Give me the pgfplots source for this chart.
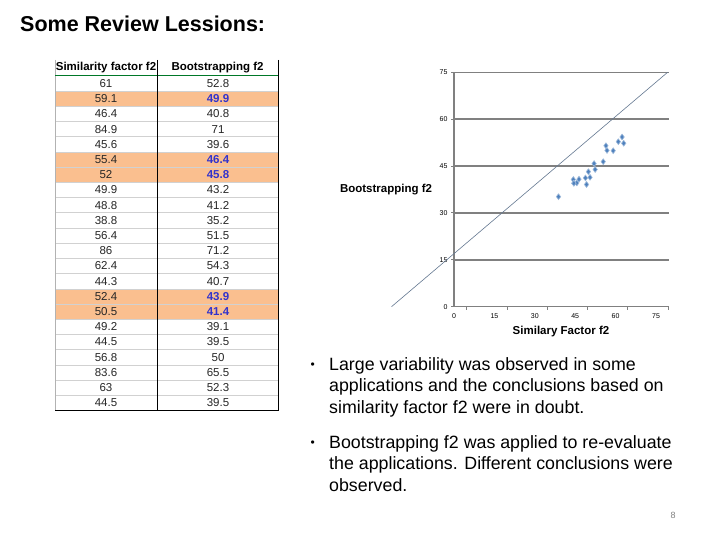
\documentclass[border=0pt]{standalone}
\usepackage{pgfplots}
\pgfplotsset{compat=1.18}
\usepackage{fontspec}
\setmainfont{Liberation Sans}
\definecolor{rowhl}{RGB}{250,191,143}
\definecolor{ptblue}{RGB}{79,129,189}
\definecolor{gridgray}{RGB}{128,128,128}
\definecolor{hlblue}{RGB}{51,51,204}
\definecolor{hdrgreen}{RGB}{0,120,40}
\definecolor{diag}{RGB}{100,120,145}

\begin{document}
\begin{tikzpicture}
\begin{scope}[x=1pt,y=-1pt]
\path[fill=white] (0,0) rectangle (720,540);
\node[anchor=base west, inner sep=0, font=\bfseries\fontsize{21.5}{24}\selectfont] at (20,31.5) {Some Review Lessions:};

% table
\foreach \r in {2,6,7,15,16}
  \fill[rowhl] (55,{76+(\r-1)*15.2}) rectangle (278,{76+\r*15.2});
\foreach \r in {1,...,21}
  \draw[black!18, line width=0.6pt] (55,{76+\r*15.2}) -- (278,{76+\r*15.2});
\draw[gray!60, line width=0.6pt] (55,60) -- (55,410.4);
\draw[hdrgreen, line width=1.6pt] (55,75.5) -- (278,75.5);
\draw[black, line width=1pt] (157,60) -- (157,410.4);
\draw[black, line width=1pt] (278,60) -- (278,410.4) -- (55,410.4);
\node[font=\bfseries\fontsize{11.5}{13}\selectfont, inner sep=0] at (106,67.5) {Similarity factor f2};
\node[font=\bfseries\fontsize{11.5}{13}\selectfont, inner sep=0] at (217.5,67.5) {Bootstrapping f2};
\foreach \a/\b/\h [count=\i] in {61/52.8/0, 59.1/49.9/1, 46.4/40.8/0, 84.9/71/0, 45.6/39.6/0,
  55.4/46.4/1, 52/45.8/1, 49.9/43.2/0, 48.8/41.2/0, 38.8/35.2/0, 56.4/51.5/0, 86/71.2/0,
  62.4/54.3/0, 44.3/40.7/0, 52.4/43.9/1, 50.5/41.4/1, 49.2/39.1/0, 44.5/39.5/0, 56.8/50/0,
  83.6/65.5/0, 63/52.3/0, 44.5/39.5/0} {
  \node[font=\fontsize{11.5}{13}\selectfont, text=black!85, inner sep=0] at (106,{76+(\i-0.5)*15.2}) {\a};
  \node[font=\fontsize{11.5}{13}\selectfont, text=black!85, inner sep=0] at (218,{76+(\i-0.5)*15.2})
    {\ifnum\h=1 \color{hlblue}\bfseries\fi\b};
}

% bullets
\begin{scope}[every node/.style={anchor=base west, inner sep=0, font=\fontsize{17.8}{21.5}\selectfont}]
\node[font=\fontsize{12}{14}\selectfont] at (310.5,368) {•};
\node at (329,370) {Large variability was observed in some};
\node at (329,391.5) {applications and the conclusions based on};
\node at (329,413) {similarity factor f2 were in doubt.};
\node[font=\fontsize{12}{14}\selectfont] at (310.5,446) {•};
\node at (329,448) {Bootstrapping f2 was applied to re-evaluate};
\node at (329,469.5) {the applications. Different conclusions were};
\node at (329,491) {observed.};
\end{scope}
\node[font=\fontsize{9}{10}\selectfont, text=gray, inner sep=0] at (673,515) {8};
\end{scope}

\begin{axis}[
  at={(454pt,-306.7pt)}, anchor=south west,
  scale only axis, width=215.5pt, height=234.4pt,
  xmin=0, xmax=80, ymin=0, ymax=75,
  clip=false,
  axis x line*=bottom, axis y line*=left,
  axis line style={gridgray, line width=1.5pt},
  /pgf/number format/assume math mode=true,
  ticklabel style={font=\fontsize{7}{8}\selectfont},
  ytick={0,15,30,45,60,75},
  ymajorgrids, grid style={gridgray, line width=1.5pt},
  y tick style={gridgray, line width=1pt},
  tick align=outside, major tick length=3pt,
  xtick={0,15,30,45,60,75},
  x tick style={draw=none},
  extra x ticks={4.7,19.8,34.7,49.5,64.3,79.6},
  extra x tick labels={},
  extra x tick style={x tick style={draw=gridgray, line width=1pt}, major tick length=3pt},
  xlabel={Similary Factor f2},
  ylabel={Bootstrapping f2},
  label style={font=\bfseries\fontsize{11.5}{13}\selectfont},
  xlabel style={at={(rel axis cs:0.4965,-0.1067)}, anchor=center},
  ylabel style={at={(rel axis cs:-0.3155,0.498)}, anchor=center, rotate=-90},
]
\addplot[diag, line width=0.6pt] coordinates {(-23.2,0) (79.3,75)};
\addplot[only marks, mark=diamond*, mark size=2.9pt,
  mark options={fill=ptblue, draw=ptblue!55!white, line width=0.6pt}] coordinates {
  (61,52.8) (59.1,49.9) (46.4,40.8) (45.6,39.6) (55.4,46.4) (52,45.8) (49.9,43.2)
  (48.8,41.2) (38.8,35.2) (56.4,51.5) (62.4,54.3) (44.3,40.7) (52.4,43.9) (50.5,41.4)
  (49.2,39.1) (44.5,39.5) (56.8,50) (63,52.3) (44.5,39.5)};
\end{axis}
\end{tikzpicture}
\end{document}
